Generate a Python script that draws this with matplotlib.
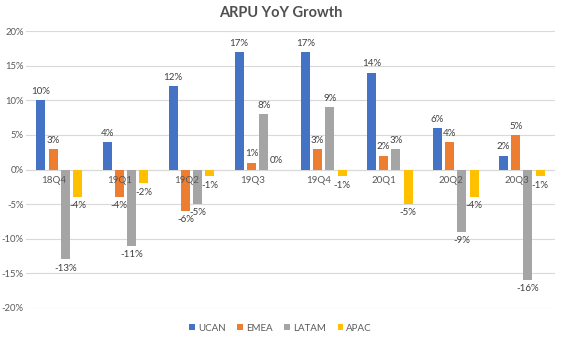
import matplotlib.pyplot as plt
import numpy as np

plt.rcParams['font.family'] = ['Lato', 'DejaVu Sans']

quarters = ["18Q4", "19Q1", "19Q2", "19Q3", "19Q4", "20Q1", "20Q2", "20Q3"]
ucan = [10, 4, 12, 17, 17, 14, 6, 2]
emea = [3, -4, -6, 1, 3, 2, 4, 5]
latam = [-13, -11, -5, 8, 9, 3, -9, -16]
apac = [-4, -2, -1, 0, -1, -5, -4, -1]

series = [("UCAN", ucan, "#4472C4"), ("EMEA", emea, "#ED7D31"),
          ("LATAM", latam, "#A5A5A5"), ("APAC", apac, "#FFC000")]

fig = plt.figure(figsize=(5.61, 3.38), dpi=100)
ax = fig.add_axes([0.047, 0.089, 0.942, 0.819])

x = np.arange(len(quarters))
step = 0.186
width = 0.136
for i, (name, vals, color) in enumerate(series):
    pos = x + (i - 1.5) * step
    bars = ax.bar(pos, vals, width=width, color=color, label=name, zorder=2)
    for b, v in zip(bars, vals):
        if v >= 0:
            ax.annotate(f"{v}%", (b.get_x() + b.get_width() / 2, v), xytext=(0, 3),
                        textcoords="offset points", ha="center", va="bottom",
                        fontsize=7, color="#404040")
        else:
            ax.annotate(f"{v}%", (b.get_x() + b.get_width() / 2, v), xytext=(0, -3),
                        textcoords="offset points", ha="center", va="top",
                        fontsize=7, color="#404040")

ax.set_xlim(-0.5, len(quarters) - 0.5)
ax.set_ylim(-20, 20)
ax.set_yticks(range(-20, 21, 5))
ax.set_yticklabels([f"{t}%" for t in range(-20, 21, 5)])
ax.yaxis.grid(True, color="#D9D9D9", linewidth=0.8, zorder=0)
ax.set_axisbelow(True)
for s in ax.spines.values():
    s.set_visible(False)
ax.axhline(0, color="#D9D9D9", linewidth=0.8, zorder=1)
ax.tick_params(axis="y", length=0, labelsize=6.8, colors="#595959", pad=2)
ax.set_xticks([])
for xi, q in zip(x, quarters):
    ax.text(xi - 0.08, -0.9, q, ha="center", va="top", fontsize=7, color="#595959")

fig.text(0.5, 0.962, "ARPU YoY Growth", ha="center", va="center",
         fontsize=10.5, fontweight="bold", color="#505050")
fig.legend(loc="lower center", bbox_to_anchor=(0.5, -0.01), ncol=4, frameon=False,
           fontsize=7, handlelength=0.6, handleheight=0.6, handletextpad=0.3,
           columnspacing=1.2, labelcolor="#595959")

fig.savefig("out.png", dpi=100)
